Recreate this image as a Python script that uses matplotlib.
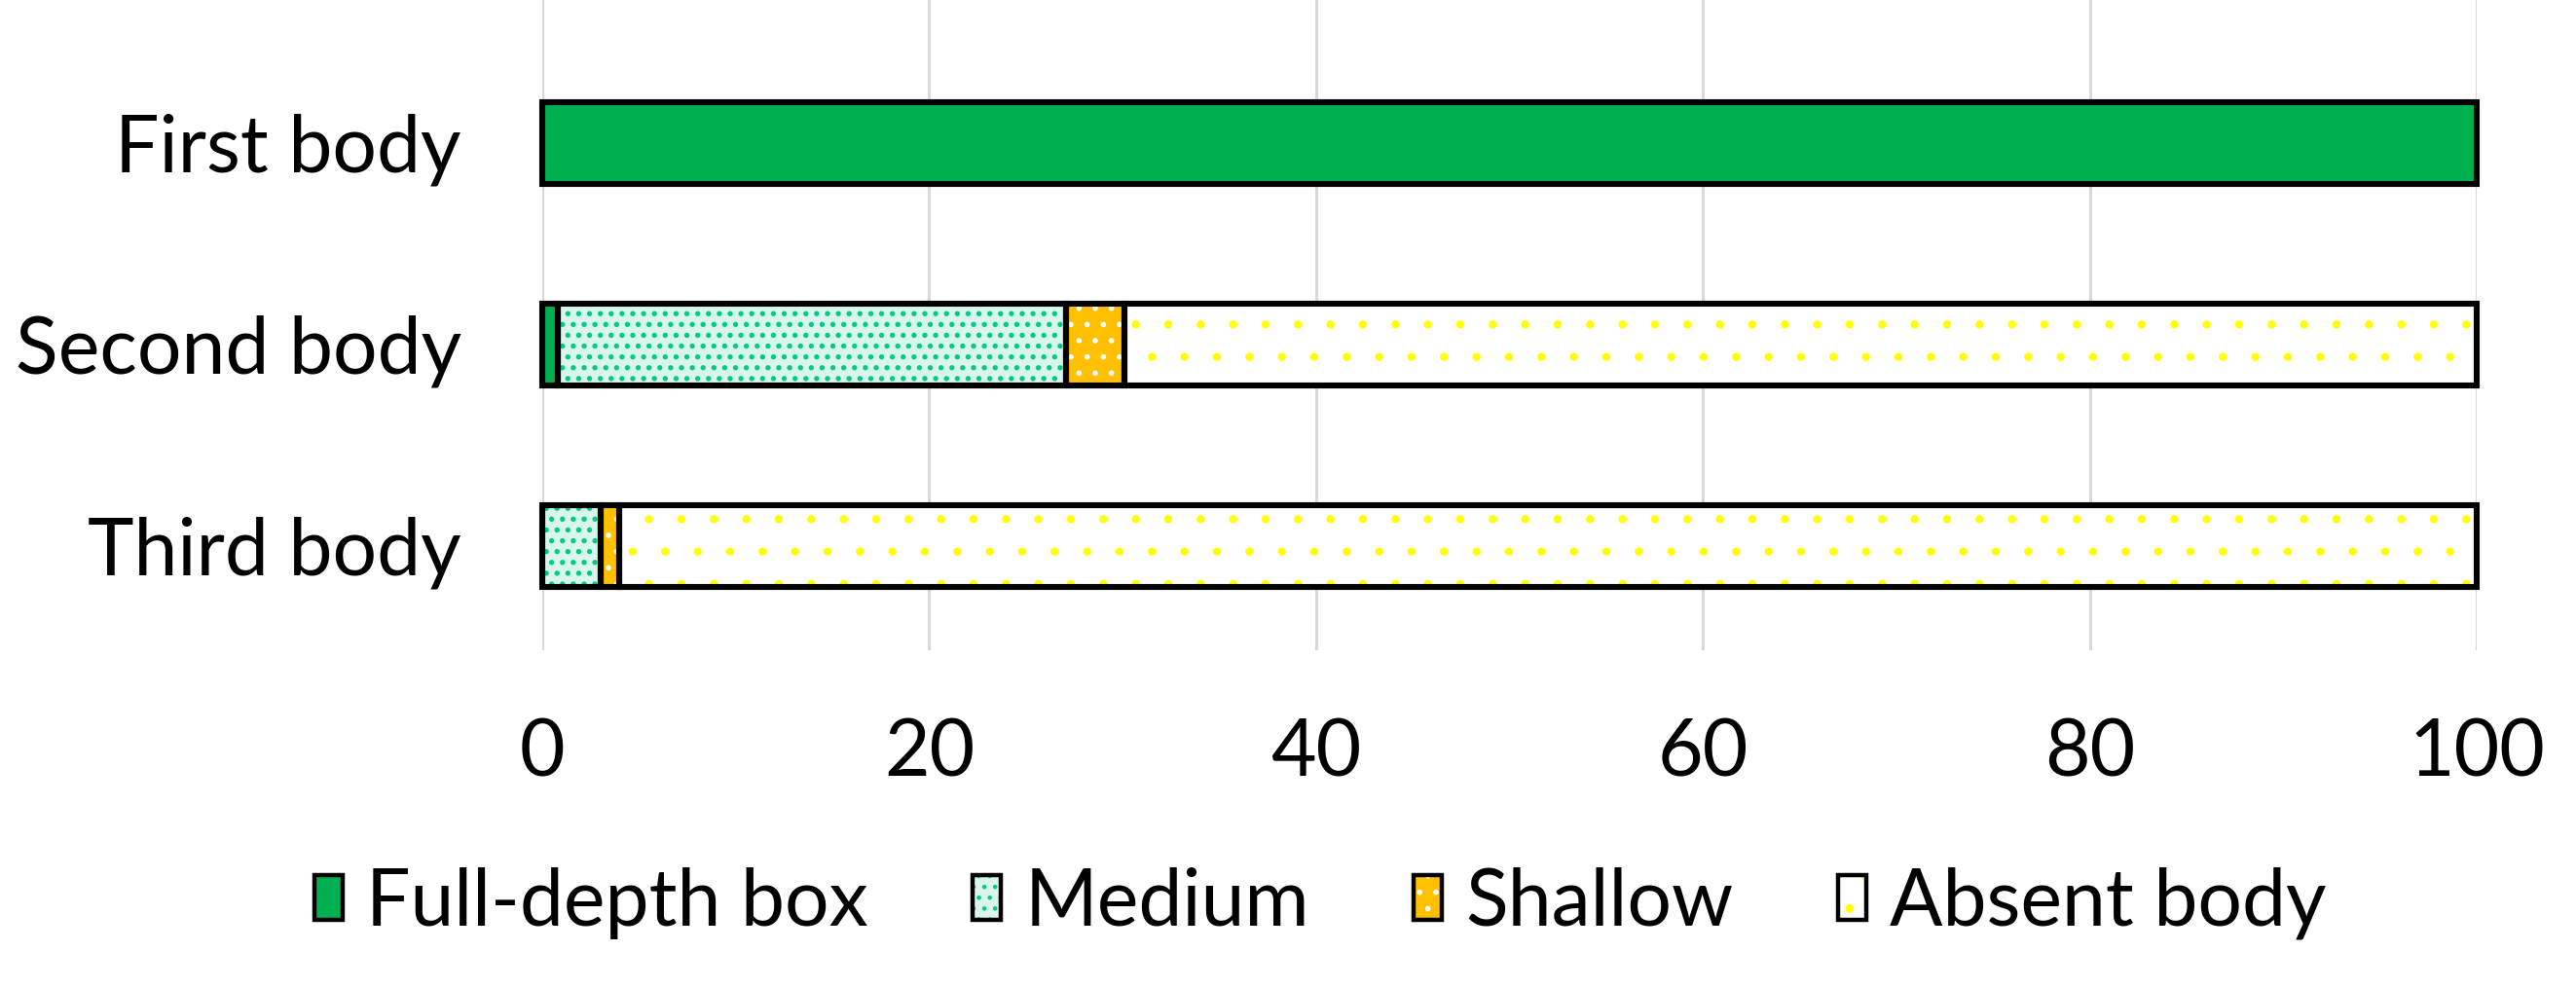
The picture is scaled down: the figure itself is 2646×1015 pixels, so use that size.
import numpy as np
import matplotlib.pyplot as plt
from matplotlib.patches import Patch
from matplotlib.legend_handler import HandlerTuple

categories = ['First body', 'Second body', 'Third body']
series = ['Full-depth box', 'Medium', 'Shallow', 'Absent body']
full_depth = [100, 0.8, 0]
medium = [0, 26.3, 3.0]
shallow = [0, 3.0, 1.0]
absent = [0, 69.9, 96.0]
xticks = [0, 20, 40, 60, 80, 100]

face = ['#00b050', '#d8f6eb', '#ffc000', '#ffffff']
dots = ['#00b050', '#00c98a', '#ffffff', '#ffff00']
hatches = [None, '...', '..', '.']
hatch_lw = [0.5, 1.1, 0.8, 0.6]

plt.rcParams['font.family'] = ['Lato', 'DejaVu Sans']
plt.rcParams['hatch.linewidth'] = 0.8

fig = plt.figure(figsize=(13.23, 5.075), dpi=200)
ax = fig.add_axes([0.2105, 0.3419, 0.751, 0.6581])

y = np.arange(len(categories))
left = np.zeros(len(categories))
handles = []
for name, vals, fc, dc, h, hl in zip(series, [full_depth, medium, shallow, absent],
                                     face, dots, hatches, hatch_lw):
    vals = np.array(vals, dtype=float)
    m = vals > 0
    bars = ax.barh(y[m], vals[m], 0.41, left=left[m], color=fc, edgecolor=dc,
                   linewidth=0, hatch=h, zorder=2)
    ax.barh(y[m], vals[m], 0.41, left=left[m], fill=False, edgecolor='black',
            linewidth=2.2, zorder=3, clip_on=False)
    left += vals
    hp = Patch(facecolor=fc, edgecolor=dc, linewidth=0, hatch=h)
    if hasattr(hp, 'set_hatch_linewidth'):
        hp.set_hatch_linewidth(hl)
        for b in bars:
            b.set_hatch_linewidth(hl)
    handles.append((hp, Patch(fill=False, edgecolor='black', linewidth=1.6)))

ax.set_xlim(0, 100)
ax.set_ylim(2.517, -0.71)
ax.set_xticks(xticks)
ax.set_yticks(y)
ax.set_yticklabels(categories)
ax.tick_params(axis='both', length=0, labelsize=29)
ax.tick_params(axis='x', pad=25)
ax.tick_params(axis='y', pad=30)
ax.grid(axis='x', color='#d9d9d9', linewidth=1.1)
ax.set_axisbelow(True)
for s in ax.spines.values():
    s.set_visible(False)

fig.legend(handles, series, handler_map={tuple: HandlerTuple(ndivide=1)},
           loc='center', bbox_to_anchor=(0.5126, 0.0857), ncol=4, frameon=False,
           fontsize=29, handlelength=0.36, handleheight=0.5, handletextpad=0.3,
           columnspacing=1.33, borderpad=0)

fig.savefig('out.png', dpi=200)
